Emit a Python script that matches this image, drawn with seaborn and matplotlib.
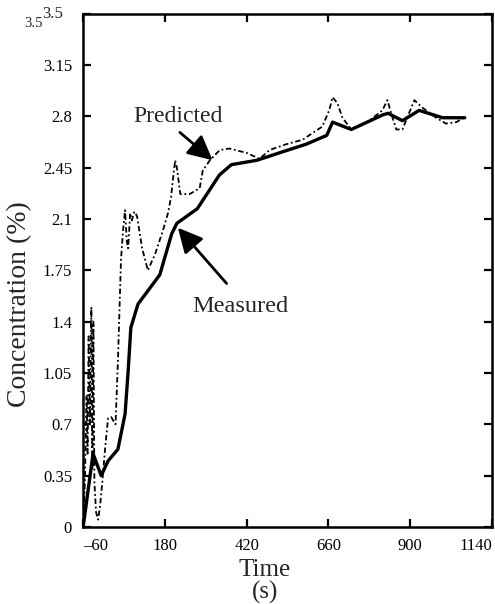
import numpy as np
import pandas as pd
import matplotlib
matplotlib.use("Agg")
import matplotlib.pyplot as plt
import seaborn as sns

# measured concentration (solid)
meas_time = [-60, -31, -7, 13, 42, 63, 72, 80, 101, 130, 165, 200, 215, 275, 340,
             375, 450, 515, 595, 655, 672, 727, 820, 835, 877, 926, 995, 1060]
meas_conc = [0.0, 0.50, 0.35, 0.45, 0.53, 0.77, 1.06, 1.36, 1.52, 1.61, 1.72, 2.00, 2.07, 2.17, 2.40,
             2.47, 2.50, 2.55, 2.61, 2.67, 2.76, 2.71, 2.81, 2.82, 2.77, 2.84, 2.79, 2.79]

# predicted concentration (dash-dot)
pred_time = [-60, -55, -50, -47, -44, -40, -36, -33, -30, -27, -22, -16, -10, -4, 5, 13, 22, 35,
             42, 48, 51, 57, 63, 68, 72, 78, 83, 90, 98, 113, 130, 151, 174, 189, 198, 203,
             210, 215, 225, 253, 282, 291, 312, 341, 370, 420, 458, 487, 537, 584, 642, 662,
             672, 686, 701, 727, 780, 818, 833, 844, 859, 877, 891, 912, 935, 976, 1005, 1035, 1058]
pred_conc = [0.0, 0.3, 0.9, 0.5, 1.3, 0.7, 1.5, 0.4, 1.4, 0.3, 0.1, 0.05, 0.15, 0.3, 0.55, 0.74, 0.75, 0.70,
             1.13, 1.59, 1.82, 2.02, 2.16, 1.95, 1.90, 2.14, 2.09, 2.15, 2.12, 1.90, 1.75, 1.86, 2.02, 2.14, 2.25, 2.36,
             2.50, 2.45, 2.27, 2.27, 2.31, 2.43, 2.50, 2.57, 2.58, 2.55, 2.51, 2.57, 2.61, 2.64, 2.73, 2.84,
             2.93, 2.89, 2.79, 2.71, 2.77, 2.84, 2.91, 2.82, 2.71, 2.71, 2.79, 2.91, 2.86, 2.79, 2.75, 2.76, 2.79]

x_ticks = [-60, 180, 420, 660, 900, 1140]
y_ticks = [0, 0.35, 0.7, 1.05, 1.4, 1.75, 2.1, 2.45, 2.8, 3.15, 3.5]
y_labels = ["0", "0.35", "0.7", "1.05", "1.4", "1.75", "2.1", "2.45", "2.8", "3.15", ""]

sns.set_style("ticks")
plt.rcParams["font.family"] = ["Liberation Serif", "DejaVu Serif"]

fig = plt.figure(figsize=(4.95, 6.04), dpi=100)
ax = fig.add_axes([0.168, 0.1275, 0.826, 0.85])

meas_df = pd.DataFrame({"time": meas_time, "conc": meas_conc})
pred_df = pd.DataFrame({"time": pred_time, "conc": pred_conc})

sns.lineplot(data=pred_df, x="time", y="conc", ax=ax, color="black", lw=1.3,
             linestyle=(0, (3, 1.5, 1, 1.5)), estimator=None, sort=False)
sns.lineplot(data=meas_df, x="time", y="conc", ax=ax, color="black", lw=2.4,
             estimator=None, sort=False)

ax.set_xlim(-60, 1140)
ax.set_ylim(0, 3.5)
ax.set_xticks(x_ticks)
ax.set_xticklabels(["\u201360"] + [str(t) for t in x_ticks[1:]])
ax.set_yticks(y_ticks)
ax.set_yticklabels(y_labels)
xl = ax.get_xticklabels()
xl[0].set_ha("left")
xl[-1].set_ha("right")

ax.tick_params(direction="in", length=6, width=1.6, top=True, right=True,
               labelsize=12, pad=8, colors="black")
for s in ax.spines.values():
    s.set_linewidth(1.8)
    s.set_color("black")

# duplicated top label as printed
ax.text(-0.049, 1.0, "3.5", transform=ax.transAxes, ha="right", va="center", fontsize=12)
ax.text(-0.1, 0.98, "3.5", transform=ax.transAxes, ha="right", va="center", fontsize=10.5)

ax.set_xlabel("Time\n(s)", fontsize=18, linespacing=1.0)
ax.xaxis.set_label_coords(0.445, -0.063)
ax.xaxis.label.set_va("top")
ax.set_ylabel("Concentration (%)", fontsize=20)
ax.yaxis.set_label_coords(-0.125, 0.435)

arrow = dict(arrowstyle="-|>,head_length=0.6,head_width=0.3", mutation_scale=25,
             lw=2, color="black", shrinkA=0, shrinkB=0)
ax.text(218, 2.80, "Predicted", fontsize=17, ha="center", va="center")
ax.annotate("", xy=(320, 2.50), xytext=(224, 2.69), arrowprops=arrow)
ax.text(402, 1.50, "Measured", fontsize=17.5, ha="center", va="center")
ax.annotate("", xy=(218, 2.04), xytext=(361, 1.66), arrowprops=arrow)

fig.savefig("out.png", dpi=100)
